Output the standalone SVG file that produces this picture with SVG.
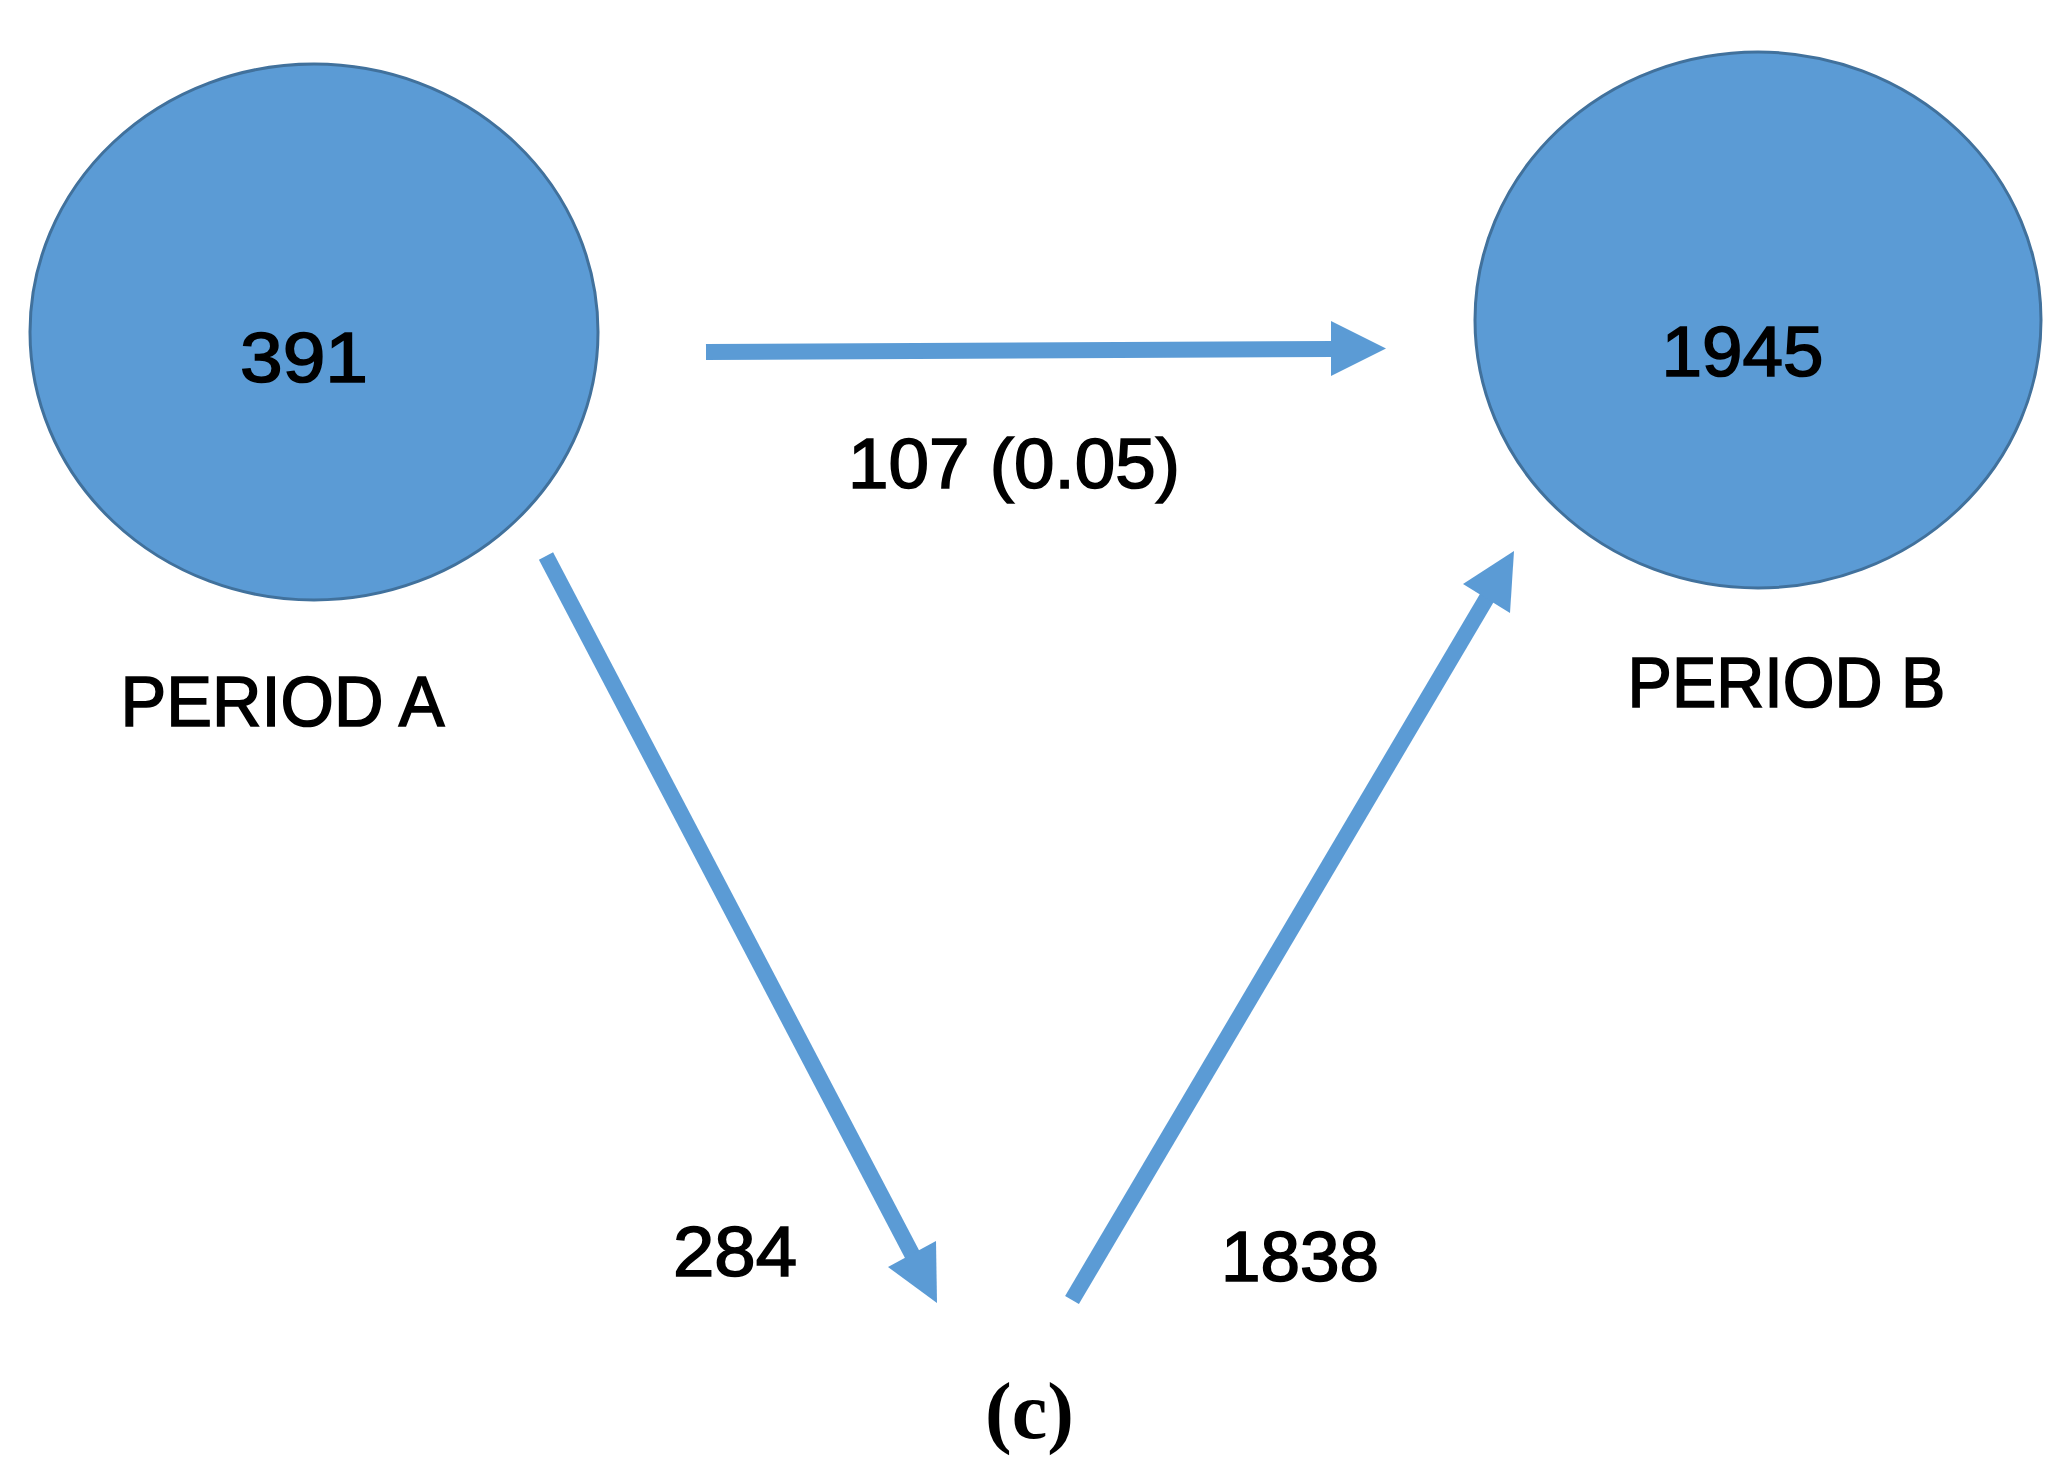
<svg xmlns="http://www.w3.org/2000/svg" width="2070" height="1470" viewBox="0 0 2070 1470">
<style>
.node{fill:#5B9BD5;stroke:#41719C;stroke-width:3}
.lbl{font-family:"Liberation Sans",Arial,sans-serif;font-weight:normal;font-size:70px;fill:#000;stroke:#000;stroke-width:1.6;text-anchor:middle}
.shaft{stroke:#5B9BD5;stroke-width:16;fill:none}
.head{fill:#5B9BD5}
.cap{font-family:"Liberation Serif","Times New Roman",serif;font-weight:bold;font-size:80px;fill:#000;text-anchor:middle}
</style>
<rect width="2070" height="1470" fill="#fff"/>
<g id="connectors">
  <line class="shaft" x1="706" y1="352" x2="1333" y2="349"/>
  <polygon class="head" points="1331,321 1386,348.5 1331,376"/>
  <line class="shaft" x1="546" y1="556" x2="913" y2="1256"/>
  <polygon class="head" points="936,1241 888,1267 937,1303"/>
  <line class="shaft" x1="1072" y1="1300" x2="1488" y2="596"/>
  <polygon class="head" points="1510,613 1463,584 1514,551"/>
</g>
<g id="period-a">
  <ellipse class="node" cx="314" cy="332" rx="284" ry="268"/>
  <text class="lbl" x="304" y="382" textLength="128" lengthAdjust="spacingAndGlyphs">391</text>
  <text class="lbl" x="282.5" y="726" textLength="324" lengthAdjust="spacingAndGlyphs">PERIOD A</text>
</g>
<g id="period-b">
  <ellipse class="node" cx="1758" cy="320" rx="283" ry="268"/>
  <text class="lbl" x="1742.6" y="376" textLength="162" lengthAdjust="spacingAndGlyphs">1945</text>
  <text class="lbl" x="1786.5" y="707" textLength="318" lengthAdjust="spacingAndGlyphs">PERIOD B</text>
</g>
<g id="edge-labels">
  <text class="lbl" x="1014" y="488" textLength="332" lengthAdjust="spacingAndGlyphs">107 (0.05)</text>
  <text class="lbl" x="735" y="1276" textLength="124" lengthAdjust="spacingAndGlyphs">284</text>
  <text class="lbl" x="1300" y="1281" font-size="68" textLength="158" lengthAdjust="spacingAndGlyphs">1838</text>
</g>
<text class="cap" x="1029.5" y="1438">(c)</text>
</svg>
